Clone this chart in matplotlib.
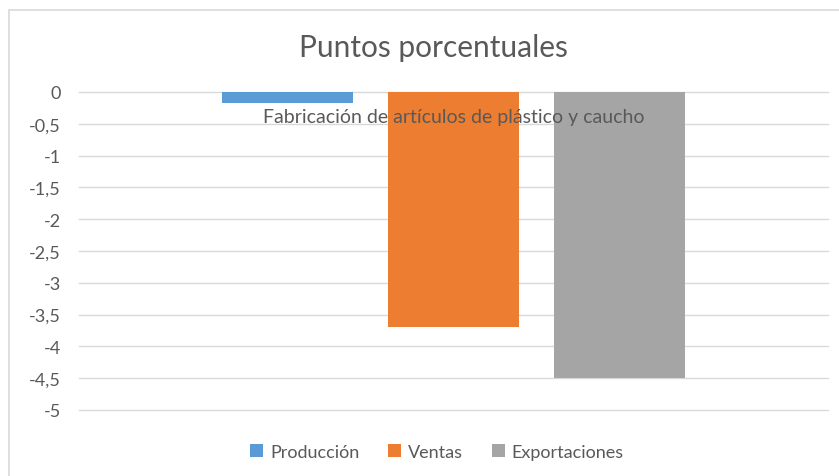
import matplotlib
matplotlib.use("Agg")
import matplotlib.pyplot as plt
from matplotlib.patches import Rectangle
from matplotlib.ticker import FuncFormatter

plt.rcParams['font.family'] = ['Lato', 'DejaVu Sans']

categoria = "Fabricación de artículos de plástico y caucho"
series = ["Producción", "Ventas", "Exportaciones"]
valores = [-0.18, -3.69, -4.49]
colores = ["#5b9bd5", "#ed7d31", "#a5a5a5"]
yticks = [0, -0.5, -1, -1.5, -2, -2.5, -3, -3.5, -4, -4.5, -5]

texto = "#595959"
rejilla = "#d9d9d9"

fig = plt.figure(figsize=(8.39, 4.77), dpi=100)

# chart area border
fig.patches.append(Rectangle((9 / 839, -0.1), 2, 1 - 11 / 477 + 0.1,
                             transform=fig.transFigure, fill=False,
                             edgecolor=rejilla, linewidth=1.2))

ax = fig.add_axes([79 / 839, 1 - 411 / 477, (828 - 79) / 839, (411 - 93) / 477])

ancho = 0.175
paso = 0.2216
for i, (nombre, v, c) in enumerate(zip(series, valores, colores)):
    ax.bar((i - 1) * paso, v, width=ancho, color=c, label=nombre, zorder=2)

ax.set_xlim(-0.5, 0.5)
ax.set_ylim(-5, 0)
ax.set_yticks(yticks)
ax.yaxis.set_major_formatter(FuncFormatter(lambda y, _: f"{y:g}".replace(".", ",")))
ax.tick_params(axis='y', length=0, pad=13, labelsize=13, labelcolor=texto)
ax.set_xticks([])
ax.grid(axis='y', color=rejilla, linewidth=1, zorder=0)
for ln in ax.get_ygridlines():
    ln.set_clip_on(False)
for s in ax.spines.values():
    s.set_visible(False)

# category label sits just under the zero line, over the bars
ax.text(0, -0.38, categoria, ha='center', va='center', fontsize=14,
        color=texto, zorder=3)

fig.text(433 / 839, 1 - 48 / 477, "Puntos porcentuales", ha='center', va='center',
         fontsize=21.5, color=texto)

leg = fig.legend(loc='center', bbox_to_anchor=(437 / 839, 1 - 453 / 477), ncol=3,
                 frameon=False, fontsize=13, handlelength=0.7, handleheight=0.7,
                 handletextpad=0.4, columnspacing=1.6)
for t in leg.get_texts():
    t.set_color(texto)

fig.savefig("out.png", dpi=100)
